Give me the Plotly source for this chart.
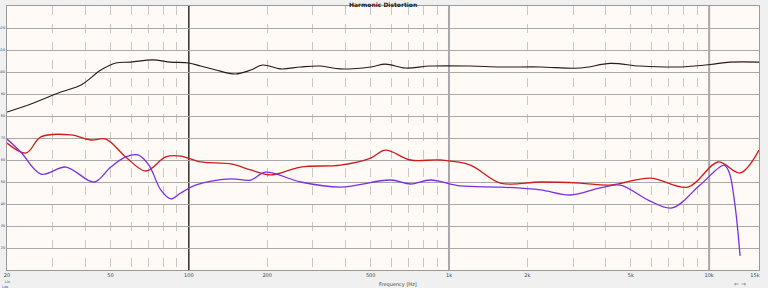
import plotly.graph_objects as go

# Frequencies (Hz) and levels (dB)
fund_f = [20, 24.7, 32.2, 38.5, 45.9, 52.4, 59.8, 72.7, 85.2, 100, 111, 127, 151, 173, 192,
          225, 269, 321, 383, 500, 570, 680, 848, 1208, 1575, 2244, 3195, 4165, 5430, 7734,
          10080, 12030, 15550]
fund_db = [81.8, 85.5, 90.9, 94.1, 100.9, 104.1, 104.5, 105.5, 104.5, 104.1, 102.7, 100.9,
           99.1, 100.9, 103.2, 101.4, 102.3, 102.7, 101.4, 102.3, 103.6, 101.8, 102.7, 102.7,
           102.3, 102.3, 101.8, 103.9, 102.7, 102.3, 103.4, 104.5, 104.5]

h2_f = [20, 23.7, 27.0, 35.2, 42.0, 48.0, 57.2, 68.3, 81.5, 93.1, 111, 145, 173, 206, 269,
        383, 500, 570, 711, 927, 1208, 1575, 2244, 3195, 4165, 5933, 8299, 10820, 13150, 15550]
h2_db = [67.7, 63.2, 70.5, 71.4, 69.1, 69.5, 61.4, 55.0, 61.4, 61.8, 59.1, 58.2, 55.5, 53.2,
         56.8, 57.7, 60.9, 64.5, 60.0, 60.0, 57.7, 49.5, 50.0, 49.5, 48.6, 51.8, 47.7, 59.1,
         54.1, 64.5]

h3_f = [20, 22.6, 27.0, 33.7, 43.2, 50.1, 57.2, 63.7, 70.2, 78.0, 85.2, 93.1, 106, 145, 173,
        197, 269, 383, 596, 711, 848, 1106, 1575, 2244, 2925, 3812, 4551, 5830, 7204, 9228,
        11410, 11930, 12570, 13150]
h3_db = [69.5, 63.6, 53.6, 56.8, 50.0, 56.8, 61.4, 62.3, 57.7, 46.4, 42.3, 45.0, 48.6, 51.4,
         50.9, 54.5, 50.0, 47.7, 50.9, 49.1, 50.9, 48.2, 47.7, 46.4, 44.1, 47.3, 48.6, 41.8,
         38.2, 48.6, 57.7, 54.5, 39.5, 16.4]

x_tick_vals = [20, 50, 100, 200, 500, 1000, 2000, 5000, 10000, 15000]
x_tick_text = ["20", "50", "100", "200", "500", "1k", "2k", "5k", "10k", "15k"]
minor_vals = [30, 40, 50, 60, 70, 80, 90, 200, 300, 400, 500, 600, 700, 800, 900,
              2000, 3000, 4000, 5000, 6000, 7000, 8000, 9000]
major_vals = [100, 1000, 10000]
y_tick_vals = [20, 30, 40, 50, 60, 70, 80, 90, 100, 110, 120]

fig = go.Figure()
fig.add_trace(go.Scatter(x=fund_f, y=fund_db, mode="lines",
                         line=dict(color="#2a1a1a", width=1.1, shape="spline", smoothing=1.0),
                         hoverinfo="skip"))
fig.add_trace(go.Scatter(x=h2_f, y=h2_db, mode="lines",
                         line=dict(color="#d01a1a", width=1.3, shape="spline", smoothing=1.0),
                         hoverinfo="skip"))
fig.add_trace(go.Scatter(x=h3_f, y=h3_db, mode="lines",
                         line=dict(color="#7a30e0", width=1.3, shape="spline", smoothing=1.0),
                         hoverinfo="skip"))

for i, v in enumerate(major_vals):
    fig.add_shape(type="line", xref="x", yref="paper", x0=v, x1=v, y0=0, y1=1,
                  line=dict(color="#111111" if i == 0 else "#a8a8a8", width=1.3 if i == 0 else 2),
                  layer="below")

fig.update_layout(
    width=768, height=288,
    margin=dict(l=7, r=9, t=6, b=18),
    paper_bgcolor="#f0f0f0",
    plot_bgcolor="#fffaf5",
    showlegend=False,
    font=dict(family="DejaVu Sans", size=5, color="#444444"),
    xaxis=dict(type="log", range=[1.30103, 4.1917], tickvals=x_tick_vals, ticktext=x_tick_text,
               showgrid=False, zeroline=False, ticks="", ticklen=0,
               showline=True, linecolor="#9a9a9a", linewidth=1, mirror=True,
               tickfont=dict(size=5, color="#444444"), automargin=False,
               minor=dict(tickvals=minor_vals, showgrid=True, gridcolor="#c8c8c8",
                          griddash="dash", gridwidth=1, ticks="")),
    yaxis=dict(range=[10, 130], tickvals=y_tick_vals, showgrid=True, gridcolor="#a8a8a8",
               gridwidth=1, zeroline=False, ticks="", ticklen=0, ticklabelstandoff=0,
               showline=True, linecolor="#9a9a9a", linewidth=1, mirror=True,
               tickfont=dict(size=3.5, color="#444444"), automargin=False),
    annotations=[
        dict(text="<b>Harmonic Distortion</b>", xref="paper", yref="paper", x=0.5, y=1,
             xanchor="center", yanchor="top", yshift=7, showarrow=False,
             font=dict(size=6, color="#222222")),
        dict(text="Frequency [Hz]", xref="paper", yref="paper", x=0.52, y=0,
             xanchor="center", yanchor="top", yshift=-9, showarrow=False,
             font=dict(size=5, color="#444444")),
        dict(text="Lin", xref="paper", yref="paper", x=0, y=0, xanchor="left", yanchor="top",
             xshift=-4, yshift=-8, showarrow=False, font=dict(size=3.5, color="#444444")),
        dict(text="<u>Log</u>", xref="paper", yref="paper", x=0, y=0, xanchor="left",
             yanchor="top", xshift=-7, yshift=-12.5, showarrow=False,
             font=dict(size=3.5, color="#3050c0")),
        dict(text="⇐ ⇒", xref="paper", yref="paper", x=0.975, y=0, xanchor="center",
             yanchor="top", yshift=-8, showarrow=False, font=dict(size=6, color="#666666")),
    ],
)

fig.write_html("out.html")
